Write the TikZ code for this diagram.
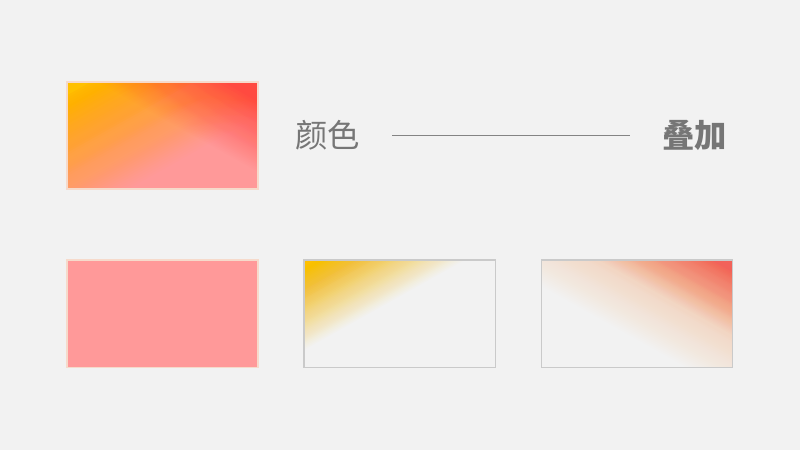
\documentclass[tikz,border=0pt]{standalone}
\usepackage{fontspec}
\newfontfamily\cjk{Noto Sans CJK SC}
\usetikzlibrary{positioning}

\definecolor{bggray}{HTML}{F2F2F2}
\definecolor{pinkc}{HTML}{FF9999}
\definecolor{yellowc}{HTML}{FFC000}
\definecolor{redc}{HTML}{FF4A40}
\definecolor{redsoft}{HTML}{F2625A}
\definecolor{beigec}{HTML}{F5D6AC}
\definecolor{rimpeach}{HTML}{F6DACB}
\definecolor{rimgray}{HTML}{CACACA}
\definecolor{textgray}{HTML}{767676}

% corner glow: #1 node, #2 colour, #3 signed width, #4 anchor side, #5 solid up to, #6 gone at
\newcommand{\glow}[6]{%
  \begin{scope}[shift={(#1.north #4)}, x=#3, y=-2.675cm]
    \clip (0,0) rectangle (1,1);
    \foreach \i [evaluate=\i as \a using 1/\i, evaluate=\i as \c using 2*(#5+(#6-#5)*\i/50)] in {1,...,50}
      \fill[#2, fill opacity=\a] (0,0) -- (\c,0) -- (0,\c) -- cycle;
  \end{scope}}

\begin{document}
\begin{tikzpicture}[
        x=0.025cm, y=-0.025cm,
        node distance=1.775cm and 1.15cm,
        swatch/.style={minimum width=4.775cm, minimum height=2.675cm, inner sep=0pt, outer sep=0pt},
        label/.style={inner sep=0pt, text=textgray, font=\cjk\fontsize{23}{27}\selectfont}
    ]
    \fill[bggray] (0,0) rectangle (800,450);
    \useasboundingbox (0,0) rectangle (800,450);

    % Swatches
    \node[swatch, fill=pinkc] (mix) at (162.5,135.5) {};
    \node[swatch, fill=pinkc, below=of mix] (pink) {};
    \node[swatch, right=of pink] (yellow) {};
    \node[swatch, right=of yellow] (red) {};

    % Glows
    \glow{mix}{yellowc}{4.775cm}{west}{0.05}{0.66}
    \glow{mix}{redc}{-4.775cm}{east}{0}{0.42}
    \glow{yellow}{yellowc}{4.775cm}{west}{0.02}{0.42}
    \glow{red}{beigec}{-4.775cm}{east}{0.12}{0.62}
    \glow{red}{redsoft}{-4.775cm}{east}{0}{0.35}

    \foreach \n/\c in {mix/rimpeach, pink/rimpeach, yellow/rimgray, red/rimgray}
      \draw[\c, line width=0.8pt] (\n.north west) rectangle (\n.south east);

    % Labels
    \node[label, right=0.925cm of mix] (colour) {颜色};
    \node[label, right=7.55cm of colour] (overlay) {\bfseries 叠加};

    \draw[textgray!90!white, line width=1.3pt, shorten <=0.8cm, shorten >=0.8cm] (colour) -- (overlay);
\end{tikzpicture}
\end{document}
